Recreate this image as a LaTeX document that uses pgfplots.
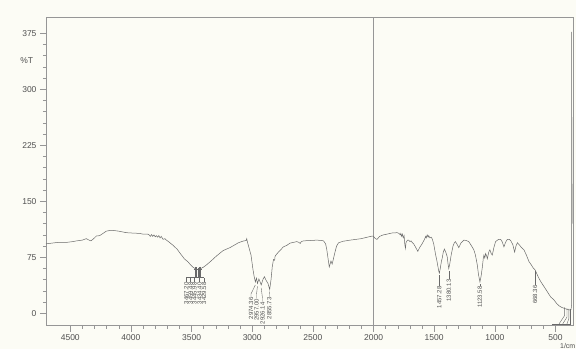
\documentclass[border=0pt]{standalone}
\usepackage{pgfplots}
\pgfplotsset{compat=1.18}
\usepackage{fontspec}
\setmainfont{Liberation Sans}
\definecolor{bg}{RGB}{252,252,245}
\definecolor{ln}{RGB}{105,105,105}
\definecolor{ax}{RGB}{150,150,150}
\definecolor{tx}{RGB}{80,80,80}
\begin{document}
\begin{tikzpicture}
\fill[bg] (-46pt,-23.3pt) rectangle (530pt,325.7pt);
\begin{axis}[
  at={(0,0)}, anchor=south west, scale only axis,
  width=527.7pt, height=308.4pt,
  x dir=reverse, xmin=350, xmax=4700, ymin=-16.6, ymax=396.4,
  xtick={500,1000,...,4500}, ytick={0,75,...,375},
  minor x tick num=4, minor y tick num=4,
  tick align=outside, tick pos=left,
  major tick length=6pt, minor tick length=3pt,
  axis line style={ax, line width=0.5pt},
  every tick/.style={ax, line width=0.5pt},
  /pgf/number format/assume math mode=true,
  /pgf/number format/1000 sep={},
  ticklabel style={font=\fontsize{8.5}{9}\selectfont, text=tx},
  xticklabel style={yshift=1pt},
  axis background/.style={fill=bg},
  clip=false,
]
\addplot[ax, line width=0.6pt] coordinates {(2000,-16.6) (2000,396.4)};
\addplot[ln, line width=0.5pt] coordinates {
(4700,93) (4650,94) (4600,95) (4530,95) (4480,96) (4448,97) (4400,98) (4368,100)
(4345,98) (4329,97) (4300,101) (4285,103.5) (4258,104) (4230,107) (4203,110)
(4170,111) (4148,111) (4100,110) (4038,108) (3990,107.5) (3928,107) (3900,106)
(3860,106) (3850,105) (3840,103) (3830,105.5) (3820,103) (3810,105) (3800,102.5)
(3790,104) (3780,102) (3770,104) (3760,101) (3750,103) (3735,99) (3720,100)
(3707,98) (3690,96) (3679,94.5) (3652,91) (3620,86) (3597,81) (3560,73) (3530,69)
(3514,66) (3490,62) (3467,59.5) (3446,58.5) (3429,59.5) (3400,62) (3376,65)
(3340,70) (3293,77) (3240,84) (3183,88) (3140,92) (3114,94.5) (3073,96.8)
(3050,97.5) (3045,100) (3040,96) (3032,91) (3010,78) (2995,60) (2985,50)
(2974,42) (2965,47) (2957,40) (2945,46) (2935,42) (2926,38) (2910,46) (2900,49)
(2885,44) (2870,40) (2856,32) (2845,45) (2835,62) (2825,72) (2815,71) (2812,76)
(2805,78) (2784,82) (2760,86) (2743,89) (2715,91) (2688,94) (2660,95) (2633,96)
(2615,95) (2605,93.5) (2595,96) (2578,97) (2520,97.5) (2467,98) (2430,97.5)
(2412,97) (2395,93) (2385,85) (2372,70) (2365,62) (2358,66) (2351,70) (2346,68)
(2341,66) (2332,72) (2322,79) (2305,90) (2288,94.5) (2250,96.5) (2192,98)
(2100,100) (2050,102) (2010,103.5) (2000,103) (1985,100) (1971,99) (1950,103)
(1920,105) (1889,106) (1850,107.5) (1806,108) (1790,107) (1780,105) (1775,107)
(1768,103) (1762,106) (1755,101) (1748,104) (1742,92) (1737,87) (1732,95)
(1720,98) (1710,98) (1700,96) (1690,97) (1682,95) (1669,93) (1655,89) (1645,86)
(1635,83) (1620,88) (1600,93) (1580,99) (1570,103) (1565,101) (1558,105)
(1550,102) (1545,104) (1535,101) (1525,102) (1517,100) (1504,93) (1490,80)
(1475,68) (1462,56) (1457,54) (1450,60) (1440,70) (1435,73) (1425,82) (1416,86)
(1405,82) (1393,76) (1385,65) (1380,60) (1374,64) (1360,78) (1345,90) (1335,94)
(1325,96) (1310,92) (1297,88) (1280,94) (1256,98) (1235,97.5) (1215,96)
(1195,91) (1173,85) (1160,78) (1145,65) (1135,52) (1123,42) (1113,50) (1103,62)
(1095,74) (1090,78) (1083,74) (1076,80) (1068,77) (1062,73) (1050,82) (1041,85)
(1030,80) (1021,78) (1008,88) (994,96) (970,99) (952,99) (940,96) (925,89)
(912,95) (897,99) (880,99) (868,97) (852,92) (837,82) (826,90) (814,94.5)
(800,92) (780,88) (760,85) (740,78) (718,69) (700,65) (685,61) (668,58)
(640,48) (620,42) (594,35.6) (560,27) (540,22) (512,17.8) (490,13) (470,10)
(450,8) (429,6.7) (400,5) (380,4.4) (372,5) (368,10) (368,377) (365,200) (362,120)
};
% peak markers
\addplot[only marks, mark=+, mark size=2pt, ln] coordinates {
(3467.20,59.5) (3459.48,59) (3445.98,58.5) (3434.40,59) (3429.58,59.5)};
% peak label leaders
\draw[ln, line width=0.4pt] (axis cs:3543,47.7) -- (axis cs:3398,47.7);
\draw[ln, line width=0.4pt] (axis cs:3543,42) -- (axis cs:3543,47.7);
\draw[ln, line width=0.4pt] (axis cs:3508,42) -- (axis cs:3508,47.7);
\draw[ln, line width=0.4pt] (axis cs:3475,42) -- (axis cs:3475,47.7);
\draw[ln, line width=0.4pt] (axis cs:3434,42) -- (axis cs:3434,47.7);
\draw[ln, line width=0.4pt] (axis cs:3398,42) -- (axis cs:3398,47.7);
\draw[ln, line width=0.4pt] (axis cs:3467.20,47.7) -- (axis cs:3467.20,56);
\draw[ln, line width=0.4pt] (axis cs:3459.48,47.7) -- (axis cs:3459.48,56);
\draw[ln, line width=0.4pt] (axis cs:3445.98,47.7) -- (axis cs:3445.98,56);
\draw[ln, line width=0.4pt] (axis cs:3434.40,47.7) -- (axis cs:3434.40,56);
\draw[ln, line width=0.4pt] (axis cs:3429.58,47.7) -- (axis cs:3429.58,56);
\draw[ln, line width=0.4pt] (axis cs:3010,22) -- (axis cs:3010,26) -- (axis cs:2974.36,38);
\draw[ln, line width=0.4pt] (axis cs:2965,20) -- (axis cs:2965,25) -- (axis cs:2957.00,36);
\draw[ln, line width=0.4pt] (axis cs:2915,15.5) -- (axis cs:2915,20) -- (axis cs:2926.14,34);
\draw[ln, line width=0.4pt] (axis cs:2860,22) -- (axis cs:2860,26) -- (axis cs:2855.73,29);
\draw[ln, line width=0.4pt] (axis cs:1457.28,37) -- (axis cs:1457.28,51);
\draw[ln, line width=0.4pt] (axis cs:1380.13,46) -- (axis cs:1380.13,57);
\draw[ln, line width=0.4pt] (axis cs:1123.58,37) -- (axis cs:1123.58,39);
\draw[ln, line width=0.4pt] (axis cs:668.36,38) -- (axis cs:668.36,56);
\draw[ln, line width=0.4pt] (axis cs:425,8) -- (axis cs:425,-3) -- (axis cs:470,-14);
\draw[ln, line width=0.4pt] (axis cs:405,7) -- (axis cs:405,-5) -- (axis cs:440,-14);
\draw[ln, line width=0.4pt] (axis cs:390,6) -- (axis cs:390,-7) -- (axis cs:405,-14);
\draw[ln, line width=0.4pt] (axis cs:378,6) -- (axis cs:378,-14);
\draw[ln, line width=0.4pt] (axis cs:530,-14) -- (axis cs:370,-14);
\begin{scope}[every node/.style={rotate=90, anchor=east, inner sep=0.5pt, font=\fontsize{6}{6}\selectfont, text=tx}]
\node at (axis cs:3543,42) {3467.20};
\node at (axis cs:3508,42) {3459.48};
\node at (axis cs:3475,42) {3445.98};
\node at (axis cs:3434,42) {3434.40};
\node at (axis cs:3398,42) {3429.58};
\node at (axis cs:3010,22) {2974.36};
\node at (axis cs:2965,20) {2957.00};
\node at (axis cs:2915,15.5) {2926.14};
\node at (axis cs:2860,22) {2855.73};
\node at (axis cs:1457.28,37) {1457.28};
\node at (axis cs:1380.13,46) {1380.13};
\node at (axis cs:1123.58,37) {1123.58};
\node at (axis cs:668.36,38) {668.36};
\end{scope}
\node[anchor=east, font=\fontsize{8.5}{9}\selectfont, text=tx, inner sep=0pt] at ([xshift=-12.7pt]axis cs:4700,338) {\%T};
\node[anchor=north east, font=\fontsize{7}{7}\selectfont, text=tx, inner sep=0pt] at ([xshift=1.8pt,yshift=-17.3pt]rel axis cs:1,0) {1/cm};
\end{axis}
\pgfresetboundingbox
\path[use as bounding box] (-46pt,-23.3pt) rectangle (530pt,325.7pt);
\end{tikzpicture}
\end{document}
